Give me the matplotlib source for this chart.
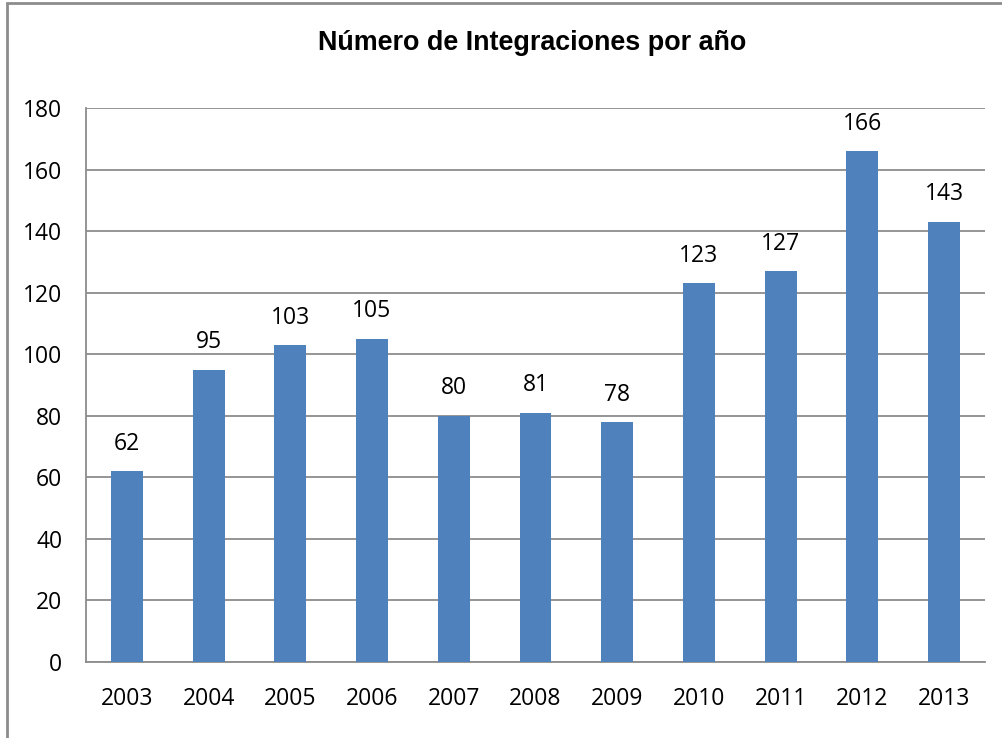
import matplotlib.pyplot as plt
import matplotlib.patches as mpatches
import numpy as np

years = ['2003', '2004', '2005', '2006', '2007', '2008', '2009', '2010', '2011', '2012', '2013']
values = [62, 95, 103, 105, 80, 81, 78, 123, 127, 166, 143]

plt.rcParams['font.family'] = ['Open Sans', 'DejaVu Sans']

fig = plt.figure(figsize=(10.03, 7.38), dpi=100)
ax = fig.add_axes([86/1003, 76/738, 899/1003, 554/738])

x = np.arange(len(years))
ax.bar(x, values, 0.39, color='#4f81bd', zorder=3)
for xi, v in zip(x, values):
    ax.text(xi, v + 5, str(v), ha='center', va='bottom', fontsize=16.5)

ax.set_xlim(-0.5, 10.5)
ax.set_ylim(0, 180)
ax.set_yticks(np.arange(0, 181, 20))
ax.set_xticks(x)
ax.set_xticklabels(years)
ax.tick_params(axis='both', length=0, labelsize=16.5)
ax.tick_params(axis='y', pad=17)
ax.tick_params(axis='x', pad=18)
ax.grid(axis='y', color='#8c8c8c', linewidth=1.3, zorder=0)
for s in ['top', 'right']:
    ax.spines[s].set_visible(False)
for s in ['left', 'bottom']:
    ax.spines[s].set_color('#8c8c8c')
    ax.spines[s].set_linewidth(1.3)

fig.text(532/1003, 1 - 43/738, 'Número de Integraciones por año', ha='center', va='center',
         fontsize=19.4, fontweight='bold', family=['Liberation Sans', 'DejaVu Sans'])

border = mpatches.Rectangle((7/1003, -0.1), 1.2, 1 - 3/738 + 0.1, transform=fig.transFigure,
                            fill=False, edgecolor='#8c8c8c', linewidth=2)
fig.patches.append(border)

fig.savefig('out.png', dpi=100)
